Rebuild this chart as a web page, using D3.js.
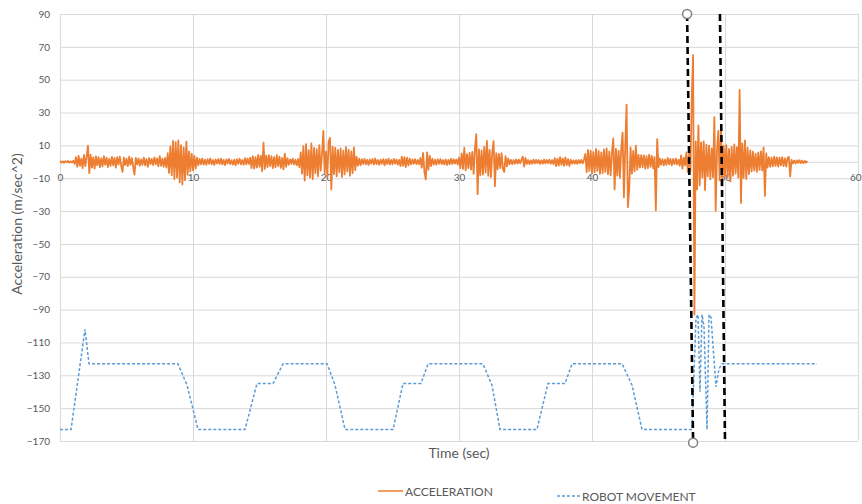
<!DOCTYPE html>
<html>
<head>
<meta charset="utf-8">
<script src="https://cdn.jsdelivr.net/npm/d3@7"></script>
<style>
  body { margin: 0; background: #fff; }
  .chart text { font-family: Lato, "Open Sans", sans-serif; fill: #595959; }
  .grid line { stroke: #d9d9d9; stroke-width: 1; }
  .grid path { display: none; }
</style>
</head>
<body>
<div class="chart"></div>
<script>
// tick labels
var xTicks = [0, 10, 20, 30, 40, 50, 60];
var yTicks = [90, 70, 50, 30, 10, -10, -30, -50, -70, -90, -110, -130, -150, -170];

var accelStep = 0.1;
var accel = [
  0.5,-0.4,0.3,-0.6,0.4,-0.3,0.5,-0.5,0.2,-0.4,
  0.6,-1.2,2.8,-3.1,3.6,-2.4,1.9,-3.8,4.2,-2.6,
  3.1,9.8,-6.9,4.4,-3.5,2.7,-4.1,3.3,-2.2,2.9,
  -3.4,2.1,-2.8,3.5,-1.9,2.6,-3.2,1.8,-2.5,3.0,
  -2.1,2.4,-3.6,2.8,-1.7,3.1,-2.3,-6.2,2.5,-2.0,
  1.9,-2.6,3.2,-1.8,2.2,-2.9,-7.8,2.4,-1.6,2.0,
  -2.4,1.5,-1.9,2.6,-2.2,1.7,-3.1,2.3,-1.4,1.8,
  -2.0,2.7,-1.6,2.1,-2.8,3.4,-2.5,1.9,-3.0,2.4,
  -3.6,5.2,-6.8,9.4,-8.1,12.7,-10.5,11.9,-9.6,13.1,
  -12.4,10.2,-13.8,8.7,-11.2,12.3,-7.9,6.4,-5.8,4.9,
  -5.2,3.6,-4.1,2.5,-2.2,1.8,-1.5,2.0,-1.7,1.3,
  -1.8,1.6,-1.2,2.1,-1.5,1.1,-1.9,1.4,-1.0,1.7,
  -1.3,1.9,-1.6,1.2,-2.0,1.5,-1.1,1.8,-1.4,1.0,
  -1.7,1.3,-2.1,1.6,-1.2,1.9,-1.5,1.1,-1.8,2.2,
  -1.6,2.0,-1.3,2.5,-3.8,3.4,-4.1,2.9,-3.5,4.2,
  -3.0,3.6,-5.8,11.6,-4.3,3.8,-3.2,4.1,-2.7,3.5,
  -3.9,2.8,-3.4,4.0,-2.6,3.1,-3.7,2.4,-4.6,5.0,
  -3.1,2.2,-1.8,1.5,-1.2,1.9,-1.6,1.3,-2.1,1.7,
  -3.4,5.8,-7.2,9.6,-11.4,10.8,-8.3,7.1,-9.5,11.2,
  -10.6,8.4,-6.9,7.7,-8.8,10.1,-5.4,4.6,18.8,-7.3,
  6.2,-9.1,12.4,14.6,-16.8,9.3,-7.5,8.6,-8.9,7.2,
  -6.4,8.1,-9.2,6.8,-7.7,9.0,-5.9,7.4,-8.5,6.3,
  -7.0,8.8,-5.1,3.2,-2.4,1.9,-2.2,1.6,-1.3,1.8,
  -1.5,1.2,-1.9,1.4,-1.1,1.7,-1.6,2.0,-1.4,1.1,
  -1.8,1.3,-1.2,1.6,-2.1,1.5,-1.3,1.9,-1.6,1.2,
  -1.5,1.8,-1.1,1.4,-1.7,1.2,-2.6,3.1,-2.4,2.8,
  -3.2,2.5,-2.1,1.9,-1.6,1.4,-1.2,1.6,-1.4,1.1,
  -1.5,2.3,-3.6,5.4,-6.1,-10.8,5.8,-4.9,3.7,-2.6,
  1.9,-1.6,1.3,-1.8,1.5,-1.2,1.7,-1.4,1.1,-1.6,
  1.4,-1.9,1.2,-1.5,1.8,-1.3,1.6,-1.1,1.4,-1.7,
  2.6,-3.8,5.1,-4.4,8.6,-5.2,4.7,-3.9,5.5,-4.8,
  6.1,-7.4,8.3,16.9,-19.7,7.6,-8.2,6.9,-7.8,9.1,
  -6.5,12.8,-8.6,7.3,-9.4,6.2,12.6,-14.8,5.3,-4.6,
  4.8,-3.9,5.2,-4.3,-6.1,3.4,-2.8,2.1,-1.5,1.2,
  -1.4,1.0,-1.2,1.5,-1.1,1.3,-0.9,1.2,3.1,-2.9,
  2.4,-1.3,1.1,-1.4,0.9,-1.2,1.3,-1.0,1.2,-0.8,
  1.1,-1.3,0.9,-1.1,1.4,-1.0,1.2,-0.9,1.3,-1.2,
  1.0,-1.4,2.2,-2.6,1.9,-2.3,2.8,-1.8,2.1,-2.5,
  2.7,-2.0,1.6,-2.4,1.3,-1.1,0.9,-1.2,1.0,-1.3,
  1.1,-0.9,1.2,-1.0,1.4,4.8,-6.3,7.2,-5.6,6.8,
  -7.1,5.9,-6.4,7.8,-5.5,6.6,-7.4,5.8,-6.9,7.5,
  -6.2,8.1,-7.6,6.4,-8.3,5.7,14.2,-16.8,7.9,-8.4,
  6.8,-9.7,8.5,17.8,-21.6,9.4,34.8,-27.6,-16.4,8.7,
  -7.3,6.6,-5.8,9.8,-4.9,4.2,-3.6,4.1,-3.3,3.9,
  -4.2,3.5,-3.8,4.4,-3.1,3.6,-4.0,2.9,-29.5,13.8,
  -3.2,2.1,-1.8,1.6,-2.2,1.4,-1.9,2.3,-1.5,1.8,
  -2.1,1.7,-1.4,2.0,-1.6,1.3,-2.4,3.9,-4.2,2.6,
  -2.2,5.8,-6.3,4.9,-5.6,38.2,65.0,-93.0,12.4,-16.7,
  22.1,-14.3,11.8,-9.6,12.5,-17.2,10.4,-8.7,9.9,-10.6,
  8.2,-9.4,27.2,-29.8,7.6,18.9,-11.3,20.7,-14.6,9.8,
  -8.7,10.2,-9.5,7.8,-11.9,9.1,-8.4,10.6,-7.2,8.9,
  -9.6,43.8,-25.1,11.2,-9.8,13.1,-10.4,8.6,-7.5,6.9,
  -5.8,6.2,-5.4,4.8,-6.1,5.7,-4.9,6.4,-5.2,8.8,
  -20.8,5.1,-3.6,2.9,-3.1,2.6,-2.8,3.2,-2.4,2.7,
  -3.0,2.5,-2.2,2.8,-2.6,2.1,-2.9,2.4,3.0,-8.9,
  1.2,-1.0,0.8,-1.1,0.9,-0.7,1.0,-0.8,0.7,-0.9,
  0.6,-0.5,0.4
];

// robot movement breakpoints
var robotTime = [0, 0.83, 1.88, 2.18, 8.87, 9.55, 10.38, 13.91, 14.81, 16.02, 16.77,
  20.08, 20.68, 21.43, 25.04, 25.79, 27.14, 27.67, 31.80, 32.48, 33.08, 35.86,
  36.69, 37.97, 38.50, 42.26, 43.01, 43.76, 47.52, 47.82, 47.97, 48.12, 48.27,
  48.42, 48.65, 48.80, 48.95, 49.32, 49.55, 49.77, 56.92];
var robotValue = [-163, -163, -102, -123, -123, -136, -163, -163, -135, -135, -123,
  -123, -136, -163, -163, -135, -135, -123, -123, -136, -163, -163,
  -135, -135, -123, -123, -136, -163, -163, -95, -93, -140, -93,
  -100, -163, -93, -95, -137, -126, -123, -123];

// the two marked instants (top and bottom of each dashed line, in sec)
var markTop = [47.15, 49.62];
var markBottom = [47.6, 50.0];

var seriesNames = ["ACCELERATION", "ROBOT MOVEMENT"];

var svgWidth = 862;
var svgHeight = 504;
var margin = { top: 14, right: 4, bottom: 63, left: 60 };
var width = svgWidth - margin.left - margin.right;
var height = svgHeight - margin.top - margin.bottom;

var svg = d3.select(".chart")
  .append("svg")
  .attr("width", svgWidth)
  .attr("height", svgHeight);

var chart = svg.append("g")
  .attr("transform", "translate(" + margin.left + "," + margin.top + ")");

var xScale = d3.scaleLinear().domain([0, 60]).range([0, width]);
var yScale = d3.scaleLinear().domain([-170, 90]).range([height, 0]);

// gridlines
chart.append("g")
  .attr("class", "grid")
  .call(d3.axisLeft(yScale).tickValues(yTicks).tickSize(-width).tickFormat(""));

chart.append("g")
  .attr("class", "grid")
  .call(d3.axisBottom(xScale).tickValues(xTicks).tickSize(height).tickFormat(""));

// y axis labels
var yAxis = chart.append("g")
  .call(d3.axisLeft(yScale).tickValues(yTicks).tickSize(0).tickPadding(10));
yAxis.select(".domain").remove();
yAxis.selectAll("text").style("font-size", "10px");

// x axis sits on zero
var xAxis = chart.append("g")
  .attr("transform", "translate(0," + yScale(0) + ")")
  .call(d3.axisBottom(xScale).tickValues(xTicks).tickSize(0).tickPadding(12));
xAxis.select(".domain").attr("stroke", "#d9d9d9");
xAxis.selectAll("text").style("font-size", "10px");
// last label would run off the page, pull it inside
xAxis.selectAll("text")
  .filter(function(d) { return d === 60; })
  .attr("text-anchor", "end")
  .attr("x", 3);

// series
var accelLine = d3.line()
  .x(function(d, i) { return xScale(i * accelStep); })
  .y(function(d) { return yScale(d); });

chart.append("path")
  .datum(accel)
  .attr("fill", "none")
  .attr("stroke", "#ED7D31")
  .attr("stroke-width", 1.8)
  .attr("stroke-linejoin", "round")
  .attr("d", accelLine);

var robotLine = d3.line()
  .x(function(d, i) { return xScale(robotTime[i]); })
  .y(function(d) { return yScale(d); });

chart.append("path")
  .datum(robotValue)
  .attr("fill", "none")
  .attr("stroke", "#5B9BD5")
  .attr("stroke-width", 1.5)
  .attr("stroke-dasharray", "3,2")
  .attr("d", robotLine);

// dashed marker lines
markTop.forEach(function(t, i) {
  chart.append("line")
    .attr("x1", xScale(t))
    .attr("y1", yScale(90))
    .attr("x2", xScale(markBottom[i]))
    .attr("y2", yScale(-170))
    .attr("stroke", "#000")
    .attr("stroke-width", 2.6)
    .attr("stroke-dasharray", "7,4");
});

// end handles on the first line
[[markTop[0], 90], [markBottom[0], -171]].forEach(function(p) {
  chart.append("circle")
    .attr("cx", xScale(p[0]))
    .attr("cy", yScale(p[1]))
    .attr("r", 4.5)
    .attr("fill", "#fff")
    .attr("stroke", "#7f7f7f")
    .attr("stroke-width", 1.5);
});

// axis titles
svg.append("text")
  .attr("transform", "translate(22," + 224 + ") rotate(-90)")
  .attr("text-anchor", "middle")
  .style("font-size", "14px")
  .text("Acceleration (m/sec^2)");

svg.append("text")
  .attr("x", 459)
  .attr("y", 458)
  .attr("text-anchor", "middle")
  .style("font-size", "14px")
  .text("Time (sec)");

// legend
var legend = svg.append("g");

legend.append("line")
  .attr("x1", 378).attr("x2", 403)
  .attr("y1", 491).attr("y2", 491)
  .attr("stroke", "#ED7D31")
  .attr("stroke-width", 1.5);
legend.append("text")
  .attr("x", 405).attr("y", 496)
  .style("font-size", "12px")
  .text(seriesNames[0]);

legend.append("line")
  .attr("x1", 557).attr("x2", 580)
  .attr("y1", 496).attr("y2", 496)
  .attr("stroke", "#5B9BD5")
  .attr("stroke-width", 1.5)
  .attr("stroke-dasharray", "3,2");
legend.append("text")
  .attr("x", 582).attr("y", 501)
  .style("font-size", "12px")
  .text(seriesNames[1]);
</script>
</body>
</html>
